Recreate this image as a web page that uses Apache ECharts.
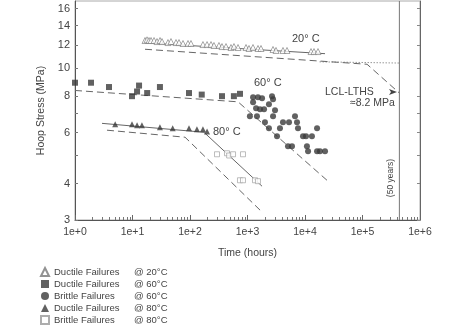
<!DOCTYPE html>
<html>
<head>
<meta charset="utf-8">
<script src="https://cdn.jsdelivr.net/npm/echarts@6/dist/echarts.min.js"></script>
<style>
html,body{margin:0;padding:0;background:#fff;}
#c{width:465px;height:330px;}
</style>
</head>
<body>
<div id="c"></div>
<script>
// ---- data (time in hours, hoop stress in MPa) ----
const ductile20 = [[16.5,12.43],[17.9,12.5],[19.4,12.43],[21,12.43],[23.7,12.43],[26.7,12.33],[30.1,12.43],[32.6,12.33],
  [41.4,12.23],[46.7,12.33],[57.1,12.23],[64.4,12.23],[75.6,12.14],[92.3,12.14],[104,12.14],[168,12.04],[198,12.04],
  [232,12.04],[261,11.95],[319,11.95],[360,11.85],[423,11.85],[516,11.76],[582,11.85],[684,11.76],[942,11.76],
  [1062,11.67],[1246,11.76],[1523,11.67],[1717,11.67],[2777,11.58],[3131,11.49],[4144,11.49],[4864,11.49],
  [12720,11.39],[14340,11.39],[16840,11.39]];
const ductile60 = [[1.0,8.9],[1.9,8.9],[3.9,8.6],[9.8,8.0],[12,8.3],[13,8.7],[18,8.2],[30,8.6],[96,8.2],[160,8.1],
  [360,8.0],[580,8.0],[740,8.15]];
const brittle60 = [[1250,7.93],[1520,7.93],[1790,7.87],[2670,7.99],[2780,7.8],[1250,7.62],[2360,7.5],[1410,7.27],
  [1650,7.21],[1940,7.21],[3010,7.15],[1100,6.82],[1460,6.82],[2780,6.82],[6700,6.82],[2010,6.51],[4140,6.51],
  [5270,6.51],[7260,6.51],[2360,6.21],[3670,6.21],[7550,6.21],[16200,6.21],[3260,5.82],[9230,5.82],[10400,5.82],
  [13200,5.82],[5060,5.38],[5940,5.38],[10800,5.38],[11300,5.17],[16200,5.17],[18200,5.17],[22300,5.17]];
const ductile80 = [[5,6.4],[9.8,6.4],[12,6.35],[14.6,6.35],[30,6.25],[50,6.2],[96,6.2],[132,6.15],[168,6.15],[198,6.05]];
const brittle80 = [[295,5.05],[440,5.09],[480,5.0],[560,5.05],[835,5.05],[740,4.11],[835,4.11],[1350,4.11],[1520,4.08]];

const fit20 = [[16.5,12.2],[22300,11.2]];
const lower20 = [[16.5,11.6],[120000,10.3],[438000,8.2]];
const extend20 = [[18000,10.5],[438000,10.4]];
const lower60 = [[1,8.37],[684,7.65],[24100,4.11]];
const fit80 = [[2.95,6.45],[175,6.01],[1790,3.92]];
const lower80 = [[3.6,6.11],[82,5.78],[1720,3.22]];
const fiftyYears = [[438000,3],[438000,17]];

const xTickLabels = [1,10,100,1000,10000,100000,1000000];
const yTickLabels = [3,4,6,8,10,12,14,16];
const yTickMarks = [3,4,5,6,7,8,10,12,14,16];

const seriesNames = ['Ductile Failures @ 20°C','Ductile Failures @ 60°C','Brittle Failures @ 60°C','Ductile Failures @ 80°C','Brittle Failures @ 80°C'];

// minor tick positions for log x axis
const xMinor = [];
for (let k = 0; k < 6; k++) for (let m = 2; m <= 9; m++) xMinor.push(m * Math.pow(10, k));

const chart = echarts.init(document.getElementById('c'));
const txt = '#444';
const font = 'Liberation Sans, Arial, sans-serif';
const lineStyle = (type, w) => ({color:'#666', width: w || 1, type: type});

function lineSeries(data, type) {
  return {type:'line', data:data, showSymbol:false, symbol:'none', silent:true, lineStyle:lineStyle(type), z:1, animation:false};
}

chart.setOption({
  animation:false,
  backgroundColor:'#fff',
  textStyle:{fontFamily:font},
  grid:{left:75, right:45, top:1, bottom:110, show:true, borderColor:'#aaa', borderWidth:1},
  xAxis:[{
    type:'log', logBase:10, min:1, max:1000000,
    name:'Time (hours)', nameLocation:'middle', nameGap:28,
    nameTextStyle:{color:txt, fontSize:10.5, fontFamily:font},
    axisLine:{show:true, lineStyle:{color:'#555'}},
    axisTick:{show:true, inside:true, length:5, customValues:xTickLabels, lineStyle:{color:'#666'}},
    axisLabel:{color:txt, fontSize:10.5, margin:7, customValues:xTickLabels,
      formatter:v => '1e+' + Math.round(Math.log10(v))},
    splitLine:{show:false}
  },{
    type:'log', logBase:10, min:1, max:1000000, position:'bottom',
    axisLine:{show:false},
    axisTick:{show:true, inside:true, length:3, customValues:xMinor, lineStyle:{color:'#777'}},
    axisLabel:{show:false}, splitLine:{show:false}
  }],
  yAxis:[{
    type:'log', logBase:10, min:3, max:17,
    name:'Hoop Stress (MPa)', nameLocation:'middle', nameGap:26,
    nameTextStyle:{color:txt, fontSize:10.5, fontFamily:font},
    axisLine:{show:true, lineStyle:{color:'#555'}},
    axisTick:{show:true, inside:true, length:3, customValues:yTickMarks, lineStyle:{color:'#777'}},
    axisLabel:{color:txt, fontSize:11, margin:5, customValues:yTickLabels},
    splitLine:{show:false}
  },{
    type:'log', logBase:10, min:3, max:17, position:'right',
    axisLine:{show:true, lineStyle:{color:'#666'}},
    axisTick:{show:true, inside:true, length:3, customValues:yTickMarks, lineStyle:{color:'#888'}},
    axisLabel:{show:false}, splitLine:{show:false}
  }],
  legend:{
    data:seriesNames, orient:'vertical', left:40, top:267, height:64, itemWidth:8, itemHeight:8, itemGap:2,
    padding:0,
    formatter: n => { const p = n.split('@'); return '{a|' + p[0].trim() + '}{b|@ ' + p[1].trim() + '}'; },
    textStyle:{color:txt, fontSize:9.5, lineHeight:10, fontFamily:font,
      rich:{a:{width:80, fontSize:9.5, lineHeight:10, color:txt}, b:{fontSize:9.5, lineHeight:10, color:txt}}}
  },
  series:[
    lineSeries(fit20,'solid'),
    lineSeries(lower20,[7,4]),
    lineSeries(extend20,[1,2]),
    lineSeries(lower60,[7,4]),
    lineSeries(fit80,'solid'),
    lineSeries(lower80,[7,4]),
    {type:'line', data:fiftyYears, showSymbol:false, symbol:'none', silent:true, lineStyle:{color:'#777', width:1}, z:1},
    {name:seriesNames[0], type:'scatter', data:ductile20, symbol:'triangle', symbolSize:6,
      itemStyle:{color:'#fff', borderColor:'#777', borderWidth:0.8}, z:3},
    {name:seriesNames[1], type:'scatter', data:ductile60, symbol:'rect', symbolSize:6,
      itemStyle:{color:'#3a3a3a'}, z:3},
    {name:seriesNames[2], type:'scatter', data:brittle60, symbol:'circle', symbolSize:6,
      itemStyle:{color:'#3a3a3a'}, z:3},
    {name:seriesNames[3], type:'scatter', data:ductile80, symbol:'triangle', symbolSize:6,
      itemStyle:{color:'#3a3a3a'}, z:3},
    {name:seriesNames[4], type:'scatter', data:brittle80, symbol:'rect', symbolSize:5,
      itemStyle:{color:'#fff', borderColor:'#999', borderWidth:0.8}, z:3}
  ],
  graphic:[
    {type:'text', left:292, top:33, style:{text:'20° C', fill:txt, font:'11px '+font}},
    {type:'text', left:254, top:77, style:{text:'60° C', fill:txt, font:'11px '+font}},
    {type:'text', left:213, top:126, style:{text:'80° C', fill:txt, font:'11px '+font}},
    {type:'text', left:325, top:87, style:{text:'LCL-LTHS', fill:txt, font:'10.5px '+font}},
    {type:'text', left:350, top:98, style:{text:'≈8.2 MPa', fill:txt, font:'10.5px '+font}},
    {type:'polygon', shape:{points:[[389,89],[397,92],[389,95],[391,92]]}, style:{fill:'#444'}},
    {type:'text', x:391, y:178, rotation:Math.PI/2, style:{text:'(50 years)', fill:txt, font:'8.5px '+font, align:'center', verticalAlign:'middle'}}
  ]
});
</script>
</body>
</html>
